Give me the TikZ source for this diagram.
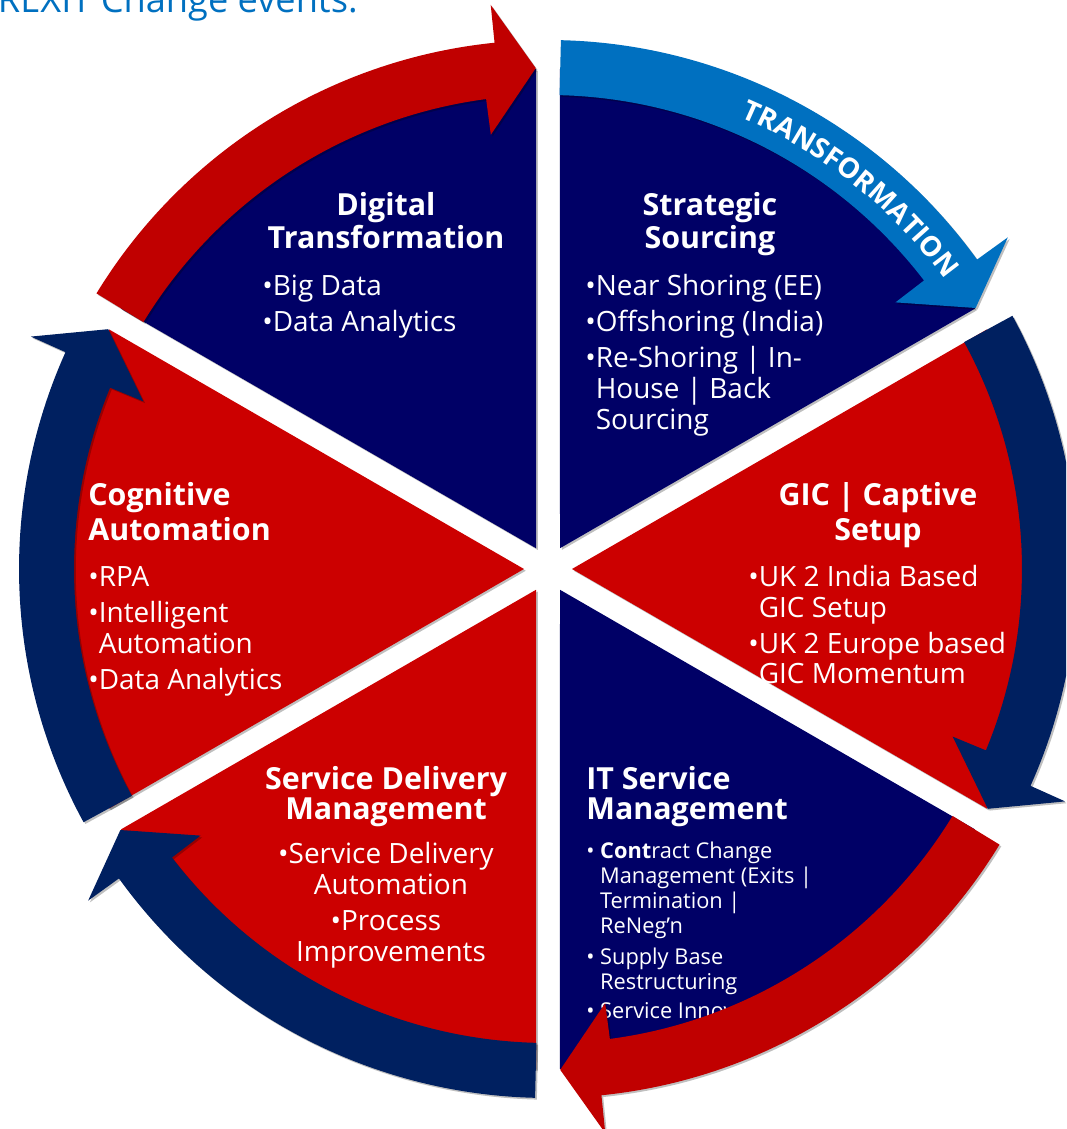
\documentclass[tikz,border=0pt]{standalone}
\usepackage{fontspec}
\setmainfont{Open Sans}
\usetikzlibrary{shadows,decorations.text}
\definecolor{marinho}{HTML}{000066}
\definecolor{marinhoseta}{HTML}{002060}
\definecolor{vermelho}{HTML}{CC0000}
\definecolor{vermelhoseta}{HTML}{C00000}
\definecolor{azulseta}{HTML}{0070C0}

\begin{document}
\begin{tikzpicture}[x=0.02cm, y=0.02cm,
    sombra/.style={drop shadow={shadow xshift=1pt, shadow yshift=-1pt, fill=black, opacity=0.25}},
    titulo/.style={text=white, inner sep=0pt, font=\fontsize{17.3}{18}\selectfont\bfseries},
    corpo/.style={text=white, inner sep=0pt, font=\fontsize{15.9}{17}\selectfont},
    corpoit/.style={text=white, inner sep=0pt, font=\fontsize{12.4}{13}\selectfont}]

    % Moldura (origem no centro do circulo)
    \path[use as bounding box] (-548,-560) rectangle (518,569);
    \clip (-548,-560) rectangle (518,569);
    \fill[white] (-548,-560) rectangle (518,569);

    % Fatias do circulo
    \foreach \a/\cor in {30/marinho, 90/marinho, 150/vermelho, 210/vermelho, 270/marinho, 330/vermelho}
        \fill[\cor, sombra] ({\a+30}:24) -- ({\a+1.375}:500)
            arc[start angle={\a+1.375}, end angle={\a+58.625}, radius=500] -- cycle;

    % Textos (coordenadas da imagem)
    \begin{scope}[shift={(-548,569)}, yscale=-1]
        \node[anchor=base east, inner sep=0pt, text=azulseta, font=\fontsize{20.6}{21}\selectfont] (brexit) at (358,13) {BREXIT Change events.};

        % Digital Transformation
        \node[titulo, anchor=base] (dt-a) at (386,216) {Digital};
        \node[titulo, anchor=base] (dt-b) at (386,249) {Transformation};
        \foreach \y/\t [count=\i] in {296/{•Big Data}, 332/{•Data Analytics}}
            \node[corpo, anchor=base west] (dt-\i) at (262,\y) {\t};

        % Strategic Sourcing
        \node[titulo, anchor=base] (ss-a) at (710,216) {Strategic};
        \node[titulo, anchor=base] (ss-b) at (710,249) {Sourcing};
        \foreach \y/\t [count=\i] in {296/{•Near Shoring (EE)}, 332/{•Offshoring (India)},
                368/{•Re-Shoring | In-}, 399/{\phantom{•}House | Back}, 430/{\phantom{•}Sourcing}}
            \node[corpo, anchor=base west] (ss-\i) at (585,\y) {\t};

        % Cognitive Automation
        \node[titulo, anchor=base west] (ca-a) at (88,506) {Cognitive};
        \node[titulo, anchor=base west] (ca-b) at (88,540) {Automation};
        \foreach \y/\t [count=\i] in {586/{•RPA}, 622/{•Intelligent},
                653/{\phantom{•}Automation}, 689/{•Data Analytics}}
            \node[corpo, anchor=base west] (ca-\i) at (88,\y) {\t};

        % GIC | Captive Setup
        \node[titulo, anchor=base] (gic-a) at (878,506) {GIC | Captive};
        \node[titulo, anchor=base] (gic-b) at (878,540) {Setup};
        \foreach \y/\t [count=\i] in {586/{•UK 2 India Based}, 617/{\phantom{•}GIC Setup},
                653/{•UK 2 Europe based}, 683/{\phantom{•}GIC Momentum}}
            \node[corpo, anchor=base west] (gic-\i) at (748,\y) {\t};

        % Service Delivery Management
        \node[titulo, anchor=base] (sdm-a) at (386,789) {Service Delivery};
        \node[titulo, anchor=base] (sdm-b) at (386,819) {Management};
        \foreach \x/\y/\t [count=\i] in {386/863/{•Service Delivery}, 391/894/{Automation},
                386/930/{•Process}, 391/961/{Improvements}}
            \node[corpo, anchor=base] (sdm-\i) at (\x,\y) {\t};

        % IT Service Management
        \node[titulo, anchor=base west] (itsm-a) at (586,789) {IT Service};
        \node[titulo, anchor=base west] (itsm-b) at (586,819) {Management};
        \foreach \y/\t [count=\i] in {858/{• {\bfseries Cont}ract Change}, 883/{\phantom{• }Management (Exits |},
                908/{\phantom{• }Termination |}, 933/{\phantom{• }ReNeg’n}, 964/{• Supply Base},
                989/{\phantom{• }Restructuring}, 1018/{• Service Innovation}}
            \node[corpoit, anchor=base west] (itsm-\i) at (586,\y) {\t};
    \end{scope}

    % Setas curvas (sentido horario)
    \foreach \ta/\tb/\cor in {148.6/91.4/vermelhoseta, 88.6/31.4/azulseta, 28.6/-28.6/marinhoseta,
            -31.4/-88.6/vermelhoseta, -91.4/-148.6/marinhoseta, -151.4/-208.6/marinhoseta}
        \fill[\cor, sombra] (\ta:474) arc[start angle=\ta, end angle={\tb+6.1}, radius=474]
            -- ({\tb+6.1}:438) -- (\tb:501) -- ({\tb+4.4}:567) -- ({\tb+4.4}:529)
            arc[start angle={\tb+4.4}, end angle=\ta, radius=529] -- cycle;

    % Texto sobre a seta azul
    \path[decorate, decoration={text along path, text align=center, text color=white,
        text={|\fontsize{15.9}{16}\selectfont\bfseries|TRANSFORMATION}}]
        (85:491) arc[start angle=85, end angle=18, radius=491];
\end{tikzpicture}
\end{document}
